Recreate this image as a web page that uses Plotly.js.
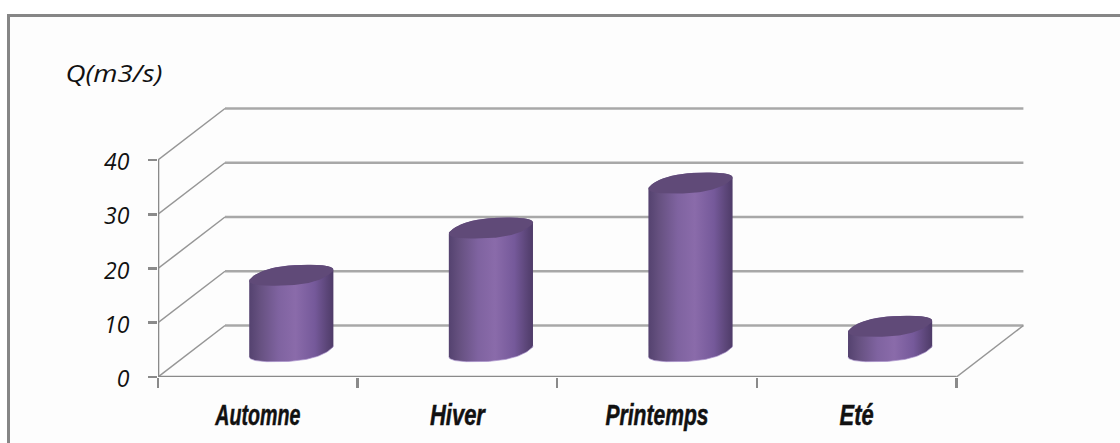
<!DOCTYPE html>
<html>
<head>
<meta charset="utf-8">
<script src="https://cdn.plot.ly/plotly-3.0.1.min.js"></script>
<style>
  html, body { margin: 0; padding: 0; background: #ffffff; }
  #frame { position: absolute; left: 7px; top: 14px; width: 1113px; height: 429px;
           box-sizing: border-box; border-left: 3px solid #868686; border-top: 3px solid #868686; background:#fdfdfd; }
  #chart { position: absolute; left: 0; top: 0; width: 1120px; height: 443px; }
</style>
</head>
<body>
<div id="frame"></div>
<div id="chart"></div>
<script>
// Mean seasonal discharge
const categories = ['Automne', 'Hiver', 'Printemps', 'Eté'];
const discharge = [14, 22.7, 31, 4.6];
const yTicks = [0, 10, 20, 30, 40];
const yTitle = 'Q(m3/s)';

// Condensed widths of the category labels, in pixels
const labelWidths = [85, 55, 103, 34];

// Pixel scale of the plotting box
const pxPerCat = 199.6, pxPerUnit = 5.425;
const plotLeft = 158.3, plotBottom = 377;
const plotWidth = 870, plotHeight = 277;

// Oblique depth of the floor, in data units
const depthX = 67 / pxPerCat, depthY = 51.5 / pxPerUnit;

// Cylinder cross-section: a sheared, slightly squared ellipse, in data units
const ax = 36.7 / pxPerCat, bx = 16.2 / pxPerCat, by = 10.5 / pxPerUnit;
const squareness = 0.8;
const spow = v => Math.sign(v) * Math.pow(Math.abs(v), squareness);
const edgeX = t => ax * spow(Math.cos(t)) + bx * spow(Math.sin(t));

// Parameter of the rightmost point of the cross-section
let phase = 0;
for (let k = 0; k < 720; k++) {
  const t = k * Math.PI / 360;
  if (edgeX(t) > edgeX(phase)) phase = t;
}

function arc(cx, cy, from, to, n) {
  const xs = [], ys = [];
  for (let i = 0; i <= n; i++) {
    const t = from + (to - from) * i / n;
    xs.push(cx + edgeX(t));
    ys.push(cy + by * spow(Math.sin(t)));
  }
  return [xs, ys];
}

const traces = [];
const gridColor = '#a8a8a8', axisColor = '#8a8a8a';
const lastCat = categories.length;

// Back-wall gridlines and the side-wall diagonals
yTicks.forEach(v => {
  traces.push({ x: [depthX, lastCat + depthX], y: [v + depthY, v + depthY], mode: 'lines',
    line: { color: gridColor, width: 2.4 }, hoverinfo: 'skip', showlegend: false });
  traces.push({ x: [0, depthX], y: [v, v + depthY], mode: 'lines',
    line: { color: '#969696', width: 1.5 }, hoverinfo: 'skip', showlegend: false });
});
// Right edge of the floor
traces.push({ x: [lastCat, lastCat + depthX], y: [0, depthY], mode: 'lines',
  line: { color: '#969696', width: 1.5 }, hoverinfo: 'skip', showlegend: false });
// Front axis lines
traces.push({ x: [0, lastCat], y: [0, 0], mode: 'lines',
  line: { color: axisColor, width: 2.6 }, hoverinfo: 'skip', showlegend: false });
traces.push({ x: [0, 0], y: [0, yTicks[yTicks.length - 1]], mode: 'lines',
  line: { color: axisColor, width: 2.6 }, hoverinfo: 'skip', showlegend: false });

// Cylinders: shaded body, a pale rim along the base, then the flat darker cap
categories.forEach((name, i) => {
  const cx = i + 0.5 + depthX / 2;
  const base = depthY / 2, top = discharge[i] + depthY / 2;
  const upper = arc(cx, top, phase, phase + Math.PI, 60);
  const lower = arc(cx, base, phase + Math.PI, phase + 2 * Math.PI, 60);
  traces.push({
    x: upper[0].concat(lower[0]), y: upper[1].concat(lower[1]),
    mode: 'lines', fill: 'toself', line: { width: 0, color: 'rgba(0,0,0,0)' },
    fillgradient: { type: 'horizontal', colorscale: [
      [0, '#54426f'], [0.12, '#65507f'], [0.35, '#7f63a0'], [0.55, '#8a6baa'],
      [0.78, '#75599a'], [0.92, '#5c4679'], [1, '#4e3b68'] ] },
    name: name, hoverinfo: 'skip', showlegend: false
  });
  traces.push({ x: lower[0], y: lower[1], mode: 'lines',
    line: { width: 1, color: 'rgba(172,150,205,0.7)' }, hoverinfo: 'skip', showlegend: false });
  const cap = arc(cx, top, 0, 2 * Math.PI, 120);
  traces.push({
    x: cap[0], y: cap[1], mode: 'lines', fill: 'toself',
    fillcolor: '#604a78', line: { width: 0, color: 'rgba(0,0,0,0)' },
    name: name, hoverinfo: 'skip', showlegend: false
  });
});

const layout = {
  width: 1120, height: 443,
  paper_bgcolor: 'rgba(0,0,0,0)', plot_bgcolor: 'rgba(0,0,0,0)',
  showlegend: false,
  margin: { l: plotLeft, r: 1120 - plotLeft - plotWidth, t: plotBottom - plotHeight, b: 443 - plotBottom, pad: 0 },
  xaxis: {
    range: [0, plotWidth / pxPerCat], showgrid: false, zeroline: false, showline: false,
    tickmode: 'array', tickvals: categories.map((_, i) => i + 0.5), ticktext: categories,
    ticks: '', ticklabelstandoff: 18,
    tickfont: { family: '"Liberation Sans", sans-serif', size: 29, color: '#111111', weight: 700, style: 'italic' },
    minor: { tickmode: 'array', tickvals: categories.map((_, i) => i).concat([lastCat]), ticks: 'outside', ticklen: 10, tickwidth: 2.4, tickcolor: axisColor, showgrid: false }
  },
  yaxis: {
    range: [0, plotHeight / pxPerUnit], showgrid: false, zeroline: false, showline: false,
    tickmode: 'array', tickvals: yTicks, ticks: 'outside', ticklen: 9, tickwidth: 2.6, tickcolor: axisColor,
    ticklabelstandoff: 14,
    tickfont: { family: '"Open Sans", sans-serif', size: 23, color: '#111111', weight: 500, style: 'italic' }
  },
  annotations: [{
    text: yTitle, xref: 'paper', yref: 'paper', showarrow: false, xanchor: 'left', yanchor: 'middle',
    x: (70 - plotLeft) / plotWidth, y: (plotBottom - 73) / plotHeight,
    font: { family: '"Open Sans", sans-serif', size: 24, color: '#111111', weight: 500, style: 'italic' }
  }]
};

Plotly.newPlot('chart', traces, layout, { displayModeBar: false, staticPlot: true }).then(gd => {
  // Squeeze the category labels into a heavy condensed face
  gd.querySelectorAll('.xtick text').forEach(node => {
    const w = labelWidths[categories.indexOf(node.textContent)];
    if (w) {
      node.setAttribute('textLength', w);
      node.setAttribute('lengthAdjust', 'spacingAndGlyphs');
      node.style.stroke = '#111111';
      node.style.strokeWidth = '0.5px';
    }
  });
  // Value labels sit a little below their tick marks
  gd.querySelectorAll('.ytick text').forEach(node => node.setAttribute('dy', '2'));
  const title = gd.querySelector('.annotation-text');
  if (title) {
    title.setAttribute('textLength', 97);
    title.setAttribute('lengthAdjust', 'spacingAndGlyphs');
  }
});
</script>
</body>
</html>
